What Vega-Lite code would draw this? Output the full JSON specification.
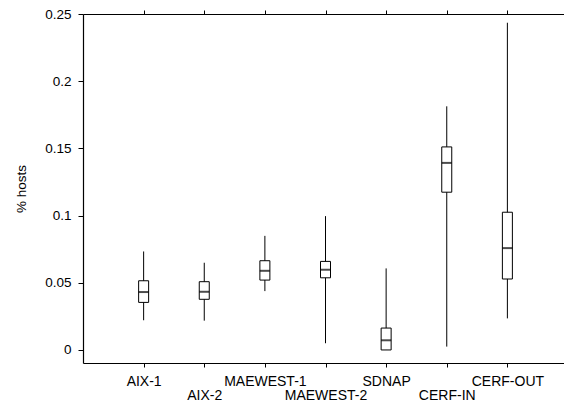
{
  "$schema": "https://vega.github.io/schema/vega-lite/v6.json",
  "autosize": {"type": "none"},
  "padding": {"left": 83, "top": 14, "right": 0, "bottom": 44},
  "width": 485,
  "height": 349,
  "config": {
    "view": {"stroke": null},
    "font": "Liberation Sans",
    "axis": {"grid": false, "domainColor": "#000", "tickColor": "#000", "labelColor": "#000", "titleColor": "#000", "domainWidth": 1.2, "tickWidth": 1}
  },
  "data": {"values": [
    {"link": "AIX-1", "min": 0.0221, "q1": 0.0354, "median": 0.0431, "q3": 0.0515, "max": 0.0733},
    {"link": "AIX-2", "min": 0.0218, "q1": 0.0377, "median": 0.0433, "q3": 0.0508, "max": 0.0649},
    {"link": "MAEWEST-1", "min": 0.0438, "q1": 0.052, "median": 0.0589, "q3": 0.0664, "max": 0.0849},
    {"link": "MAEWEST-2", "min": 0.005, "q1": 0.0537, "median": 0.0597, "q3": 0.0659, "max": 0.0996},
    {"link": "SDNAP", "min": 0.0, "q1": 0.0, "median": 0.0072, "q3": 0.0163, "max": 0.0607},
    {"link": "CERF-IN", "min": 0.0025, "q1": 0.1174, "median": 0.1392, "q3": 0.1511, "max": 0.1813},
    {"link": "CERF-OUT", "min": 0.0235, "q1": 0.0528, "median": 0.0758, "q3": 0.1025, "max": 0.2435}
  ]},
  "resolve": {"axis": {"x": "independent"}},
  "layer": [
    {
      "mark": {"type": "rule", "color": "#000", "strokeWidth": 1},
      "encoding": {
        "x": {"field": "link", "type": "nominal", "sort": null,
          "scale": {"type": "point", "padding": 1},
          "axis": {"orient": "bottom", "title": null, "labelAngle": 0, "tickSize": 4, "labelPadding": 7,
            "labelFontSize": 14, "labelLineHeight": 14,
            "labelExpr": "indexof(['AIX-2','MAEWEST-2','CERF-IN'], datum.value) >= 0 ? ['', datum.label] : datum.label"}},
        "y": {"field": "min", "type": "quantitative",
          "scale": {"domain": [-0.0097, 0.25], "nice": false, "zero": false},
          "axis": {"title": "% hosts", "values": [0, 0.05, 0.1, 0.15, 0.2, 0.25], "format": ".2~f",
            "tickSize": 5, "labelPadding": 7, "labelFontSize": 13.5, "titleFontSize": 13.5, "titleFontWeight": "normal", "titlePadding": 16}},
        "y2": {"field": "max"}
      }
    },
    {
      "mark": {"type": "bar", "size": 10, "fill": "#fff", "stroke": "#000", "strokeWidth": 1},
      "encoding": {
        "x": {"field": "link", "type": "nominal", "sort": null,
          "axis": {"orient": "top", "title": null, "labels": false, "tickSize": 4}},
        "y": {"field": "q1", "type": "quantitative"},
        "y2": {"field": "q3"}
      }
    },
    {
      "mark": {"type": "tick", "size": 10, "thickness": 2, "color": "#000"},
      "encoding": {
        "x": {"field": "link", "type": "nominal", "sort": null, "axis": null},
        "y": {"field": "median", "type": "quantitative"}
      }
    }
  ]
}
